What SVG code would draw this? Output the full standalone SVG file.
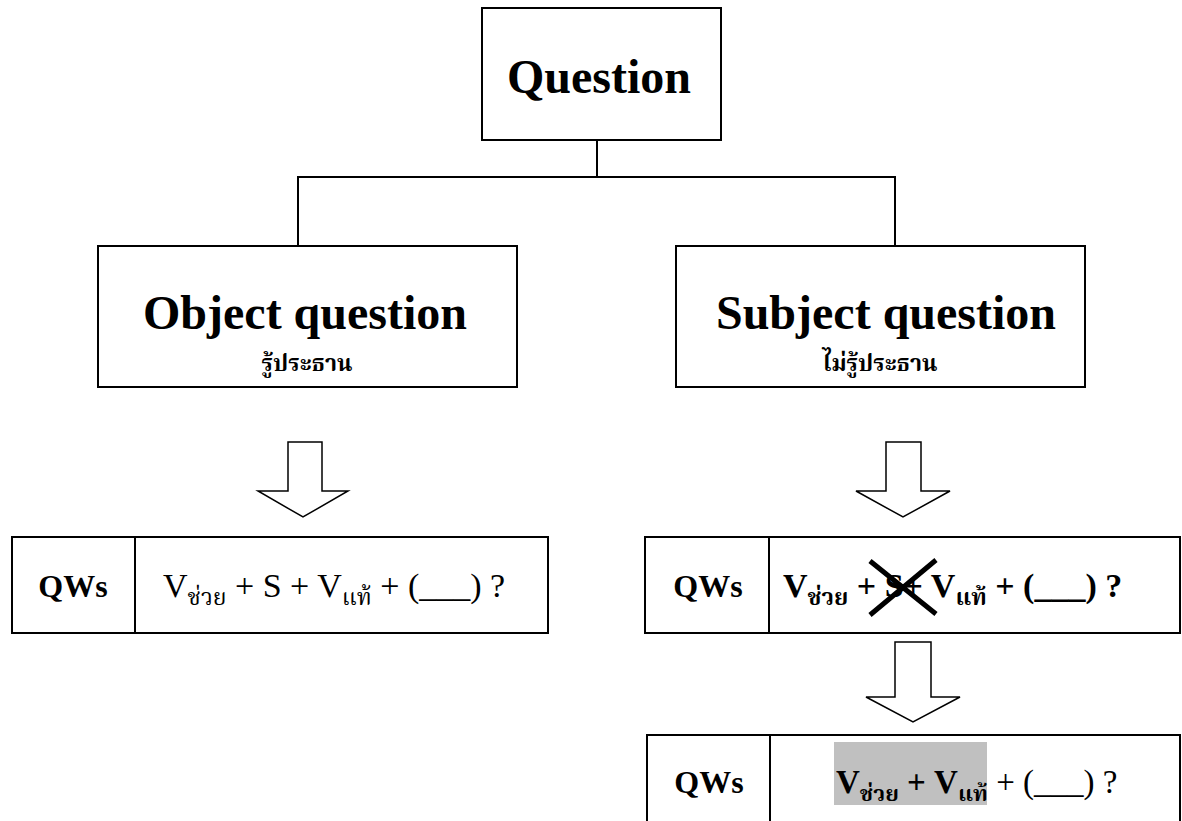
<svg xmlns="http://www.w3.org/2000/svg" width="1182" height="821" viewBox="0 0 1182 821">
<style>
.box{fill:#fff;stroke:#000;stroke-width:2}
.ln{fill:none;stroke:#000;stroke-width:2}
.arr{fill:#fff;stroke:#000;stroke-width:1.5;stroke-linejoin:miter}
text{font-family:"Liberation Serif","Noto Serif Thai","DejaVu Serif",serif;fill:#000}
.big{font-size:48px;font-weight:bold;text-anchor:middle}
.th{font-size:23px;font-weight:bold;text-anchor:middle}
.qw{font-size:32px;font-weight:bold;text-anchor:middle}
.f{font-size:34px}
.sub{font-size:23px}
.b{font-weight:bold}
</style>
<rect width="1182" height="821" fill="#fff"/>
<g id="connectors">
<path class="ln" d="M597,140 V177 M297,177 H896 M298,177 V246 M895,177 V246"/>
</g>
<g id="question">
<rect class="box" x="482" y="8" width="239" height="132"/>
<text class="big" x="599" y="93">Question</text>
</g>
<g id="object">
<rect class="box" x="98" y="246" width="419" height="141"/>
<text class="big" x="305" y="329">Object question</text>
<text class="th" x="307" y="371">รู้ประธาน</text>
</g>
<g id="subject">
<rect class="box" x="676" y="246" width="409" height="141"/>
<text class="big" x="886" y="329">Subject question</text>
<text class="th" x="880" y="371">ไม่รู้ประธาน</text>
</g>
<g id="arrow-left">
<path class="arr" d="M288,442 H322 V491 H348 L303,517 L258,491 H288 Z"/>
</g>
<g id="formula-left">
<rect class="box" x="12" y="537" width="536" height="96"/>
<line class="ln" x1="135" y1="537" x2="135" y2="633"/>
<text class="qw" x="73" y="597">QWs</text>
<text class="f" x="163" y="597">V<tspan class="sub" dy="8">ช่วย</tspan><tspan dy="-8"> + S + V</tspan><tspan class="sub" dy="8">แท้</tspan><tspan dy="-8"> + (___) ?</tspan></text>
</g>
<g id="arrow-right1">
<path class="arr" d="M886,442 H921 V491 H950 L903,517 L856,491 H886 Z"/>
</g>
<g id="formula-right1">
<rect class="box" x="645" y="537" width="535" height="96"/>
<line class="ln" x1="769" y1="537" x2="769" y2="633"/>
<text class="qw" x="708" y="597">QWs</text>
<text class="f b" x="783" y="597">V<tspan class="sub" dy="8">ช่วย</tspan><tspan dy="-8"> + S+ V</tspan><tspan class="sub" dy="8">แท้</tspan><tspan dy="-8"> + (___) ?</tspan></text>
<path d="M870,561 L936,614 M936,560 L870,615" stroke="#000" stroke-width="5" fill="none"/>
</g>
<g id="arrow-right2">
<path class="arr" d="M895,642 H931 V697 H960 L913,722 L866,697 H895 Z"/>
</g>
<g id="formula-right2">
<rect class="box" x="647" y="735" width="533" height="90"/>
<line class="ln" x1="770" y1="735" x2="770" y2="825"/>
<rect x="834" y="742" width="153" height="63" fill="#c0c0c0"/>
<text class="qw" x="709" y="793">QWs</text>
<text class="f" x="836" y="793" style="font-size:33px"><tspan class="b">V</tspan><tspan class="sub b" dy="8" style="font-size:22px">ช่วย</tspan><tspan class="b" dy="-8"> + V</tspan><tspan class="sub b" dy="8" style="font-size:22px">แท้</tspan><tspan dy="-8"> + (___) ?</tspan></text>
</g>
</svg>
